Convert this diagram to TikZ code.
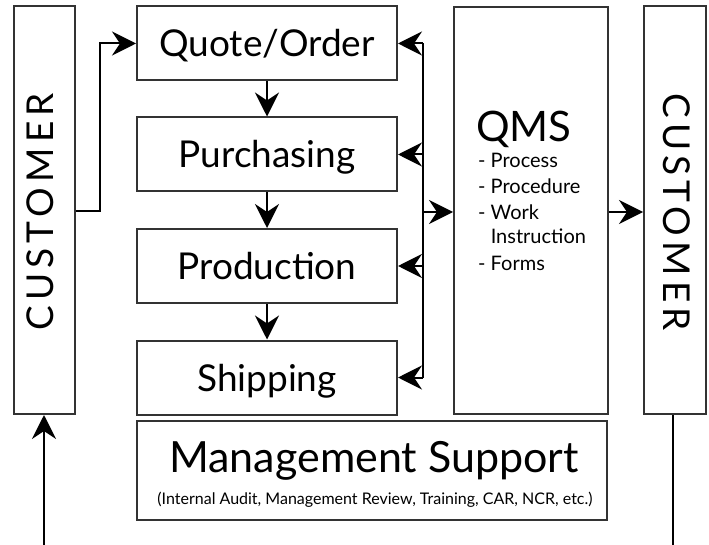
\documentclass[tikz,border=0pt]{standalone}
\usepackage{fontspec}
\setmainfont{Lato}
\usetikzlibrary{arrows.meta}
\definecolor{boxgray}{HTML}{333333}
\begin{document}
\begin{tikzpicture}[x=1pt,y=-1pt,
  box/.style={draw=boxgray, line width=2pt, rectangle, inner sep=0pt},
  stage/.style={box, minimum width=260pt, minimum height=74pt,
    font=\fontsize{37}{40}\selectfont, text height=27pt, text depth=0pt},
  link/.style={line width=2pt, draw=black},
  arr/.style={link, -{Stealth[length=24pt,width=24pt,inset=8pt]}},
  bigtext/.style={font=\fontsize{37}{40}\selectfont\addfontfeatures{LetterSpace=14}},
  listtext/.style={font=\fontsize{20}{22}\selectfont, anchor=base west, inner sep=0pt},
]
\useasboundingbox (0,0) rectangle (709,545);

% side customer columns
\node[box, minimum width=61pt, minimum height=408pt] (custL) at (44,210) {};
\node[box, minimum width=62pt, minimum height=408pt] (custR) at (675,210) {};
\node[bigtext, rotate=90] (custLtext) at (40,212) {CUSTOMER};
\node[bigtext, rotate=-90] (custRtext) at (677,212) {CUSTOMER};

% process stages
\node[stage] (quote) at (267,43.5) {Quote/Order};
\node[stage] (purch) at (267,154.5) {Purchasing};
\node[stage] (prod) at (267,266) {Production};
\node[stage] (ship) at (267,377.5) {Shipping};

% quality management system
\node[box, minimum width=154pt, minimum height=407pt] (qms) at (531,210.5) {};
\node[font=\fontsize{42}{44}\selectfont, anchor=base west, inner sep=0pt] (qmstitle) at (476,142) {QMS};
\node[listtext] (l1) at (478,168) {- Process};
\node[listtext] (l2) at (478,194) {- Procedure};
\node[listtext] (l3) at (478,220) {- Work};
\node[listtext] (l4) at (478,244) {\phantom{- }Instruction};
\node[listtext] (l5) at (478,270) {- Forms};

% management support
\node[box, minimum width=470pt, minimum height=99pt] (mgmt) at (372,470.5) {};
\node[font=\fontsize{43}{45}\selectfont, anchor=base, inner sep=0pt] (mgmttitle) at (374,472) {Management Support};
\node[font=\fontsize{16}{18}\selectfont, anchor=base, inner sep=0pt] (mgmtsub) at (375,504) {(Internal Audit, Management Review, Training, CAR, NCR, etc.)};

% flow between stages
\draw[arr] (quote.south) -- (purch.north);
\draw[arr] (purch.south) -- (prod.north);
\draw[arr] (prod.south) -- (ship.north);

% customer order enters at quote
\coordinate (bendL) at (100,211);
\draw[arr] (custL.east |- bendL) -- (bendL) |- (quote.west);

% QMS bus
\coordinate (busTop) at (423,43.5);
\coordinate (busBot) at (423,377.5);
\draw[link] (busTop) -- (busBot);
\draw[arr] (busTop) -- (quote.east);
\draw[arr] (423,154.5) -- (purch.east);
\draw[arr] (423,266) -- (prod.east);
\draw[arr] (busBot) -- (ship.east);
\draw[arr] (423,212) -- (qms.west |- 0,212);
\draw[arr] (qms.east |- 0,212) -- (custR.west |- 0,212);

% loop in and out at the bottom
\coordinate (inL) at (44,545);
\coordinate (outR) at (673,545);
\draw[arr] (inL) -- (custL.south);
\draw[link] (custR.south -| outR) -- (outR);
\end{tikzpicture}
\end{document}
